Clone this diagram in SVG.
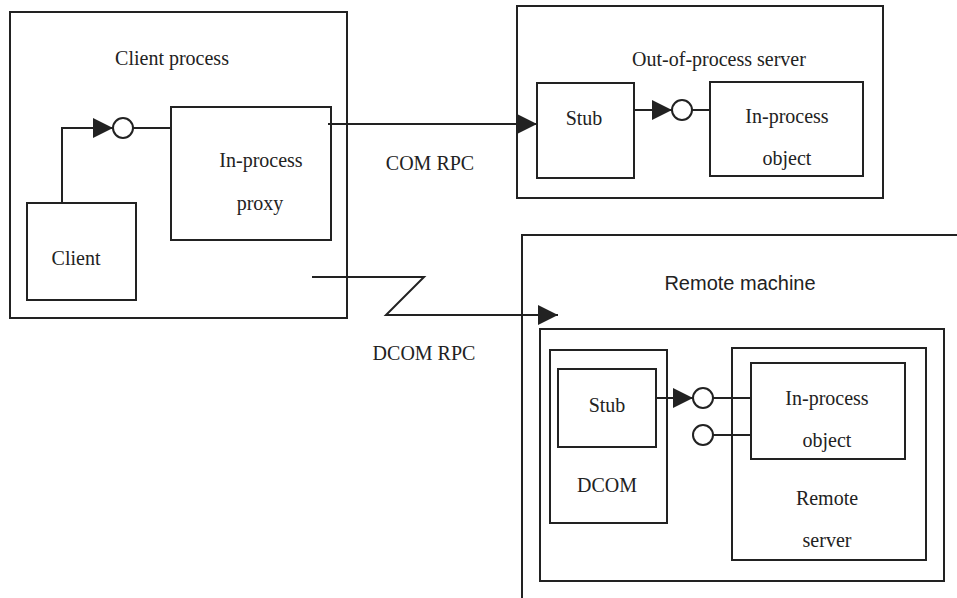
<svg xmlns="http://www.w3.org/2000/svg" width="957" height="598" viewBox="0 0 957 598">
<style>
.box{fill:none;stroke:#222;stroke-width:2}
.ln{fill:none;stroke:#222;stroke-width:2}
.ifc{fill:#fff;stroke:#222;stroke-width:2}
.t{font-family:"Liberation Serif","Times New Roman",serif;font-size:20px;fill:#222;text-anchor:middle}
.s{font-family:"Liberation Sans",Arial,sans-serif;font-size:20px;fill:#222;text-anchor:middle}
</style>
<defs>
<marker id="ah" viewBox="0 0 20 20" refX="20" refY="10" markerWidth="20" markerHeight="20" markerUnits="userSpaceOnUse" orient="auto">
<path d="M0,0 L20,10 L0,20 z" fill="#222"/>
</marker>
</defs>
<rect width="957" height="598" fill="#fff"/>

<g id="client-process">
<rect class="box" x="10" y="12" width="337" height="306"/>
<text class="t" x="172" y="65">Client process</text>
</g>
<g id="client">
<rect class="box" x="27" y="203" width="109" height="97"/>
<text class="t" x="76" y="265">Client</text>
</g>
<g id="proxy">
<rect class="box" x="171" y="107" width="160" height="133"/>
<text class="t" x="261" y="167">In-process</text>
<text class="t" x="260" y="210">proxy</text>
</g>

<g id="out-of-process-server">
<rect class="box" x="517" y="6" width="366" height="192"/>
<text class="t" x="719" y="66">Out-of-process server</text>
</g>
<g id="stub1">
<rect class="box" x="537" y="83" width="97" height="95"/>
<text class="t" x="584" y="125">Stub</text>
</g>
<g id="object1">
<rect class="box" x="710" y="82" width="153" height="94"/>
<text class="t" x="787" y="123">In-process</text>
<text class="t" x="787" y="165">object</text>
</g>

<g id="remote-machine">
<rect class="box" x="522" y="235" width="460" height="400"/>
<text class="s" x="740" y="290">Remote machine</text>
</g>
<g id="remote-frame">
<rect class="box" x="540" y="329" width="404" height="252"/>
</g>
<g id="dcom">
<rect class="box" x="550" y="350" width="117" height="173"/>
<text class="t" x="607" y="492">DCOM</text>
</g>
<g id="stub2">
<rect class="box" x="558" y="369" width="98" height="78"/>
<text class="t" x="607" y="412">Stub</text>
</g>
<g id="remote-server">
<rect class="box" x="732" y="348" width="194" height="212"/>
<text class="t" x="827" y="505">Remote</text>
<text class="t" x="827" y="547">server</text>
</g>
<g id="object2">
<rect class="box" x="751" y="363" width="154" height="96"/>
<text class="t" x="827" y="405">In-process</text>
<text class="t" x="827" y="447">object</text>
</g>

<g id="connectors">
<path class="ln" d="M62,203 V128 H113" marker-end="url(#ah)"/>
<line class="ln" x1="133" y1="128" x2="171" y2="128"/>
<circle class="ifc" cx="123" cy="128" r="10"/>

<path class="ln" d="M328,124 H537" marker-end="url(#ah)"/>
<text class="t" x="430" y="170">COM RPC</text>

<path class="ln" d="M634,110 H672" marker-end="url(#ah)"/>
<line class="ln" x1="692" y1="110" x2="710" y2="110"/>
<circle class="ifc" cx="682" cy="110" r="10"/>

<path class="ln" d="M312,277 H424 L386,315 H558" marker-end="url(#ah)"/>
<text class="t" x="424" y="360">DCOM RPC</text>

<path class="ln" d="M656,398 H693" marker-end="url(#ah)"/>
<line class="ln" x1="713" y1="398" x2="751" y2="398"/>
<circle class="ifc" cx="703" cy="398" r="10"/>
<line class="ln" x1="713" y1="435" x2="751" y2="435"/>
<circle class="ifc" cx="703" cy="435" r="10"/>
</g>
</svg>
